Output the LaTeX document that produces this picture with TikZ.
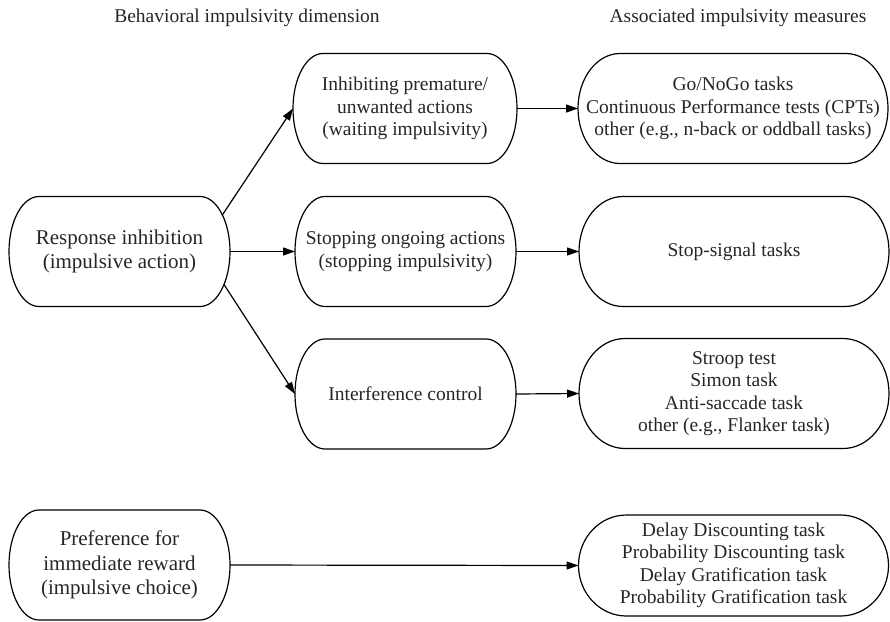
\documentclass[tikz,border=0pt]{standalone}
\usepackage{fontspec}
\setmainfont{Liberation Serif}
\usetikzlibrary{arrows.meta,calc}

\begin{document}
\begin{tikzpicture}[x=1pt,y=-1pt,line width=1.2pt,-{Triangle[length=12pt,width=8pt]}]

  \tikzstyle{pill}=[shape=rectangle,outer sep=0pt,align=center,inner sep=2pt,font=\fontsize{19.5}{22.5}\selectfont,text=black!85]
  \tikzstyle{dimnode}=[pill,minimum width=221pt,minimum height=110pt]
  \tikzstyle{rootnode}=[dimnode,font=\fontsize{21}{24.5}\selectfont]
  \tikzstyle{measnode}=[pill,minimum width=310pt,minimum height=110pt]
  \tikzstyle{headnode}=[font=\fontsize{19.5}{22.5}\selectfont,text=black!85]

  \useasboundingbox (0,0) rectangle (890,621);

  \node[headnode] (dimhead)  at (247,18) {Behavioral impulsivity dimension};
  \node[headnode] (meashead) at (738,18) {Associated impulsivity measures};

  \node[rootnode] (respinh)  at (119.5,251.5) {Response inhibition\\(impulsive action)};
  \node[rootnode] (prefrew)  at (119.5,565)   {Preference for\\immediate reward\\(impulsive choice)};

  \node[dimnode,minimum width=224pt] (waiting)  at (405,108.5) {Inhibiting premature/\\unwanted actions\\(waiting impulsivity)};
  \node[dimnode] (stopping) at (405.5,251.5) {Stopping ongoing actions\\(stopping impulsivity)};
  \node[dimnode] (interf)   at (405.5,394)   {Interference control};

  \node[measnode] (gonogo)  at (733,108.5) {Go/NoGo tasks\\Continuous Performance tests (CPTs)\\other (e.g., n-back or oddball tasks)};
  \node[measnode] (stopsig) at (734,251.5) {Stop-signal tasks};
  \node[measnode] (stroop)  at (734,393.5) {Stroop test\\Simon task\\Anti-saccade task\\other (e.g., Flanker task)};
  \node[measnode,minimum height=101pt] (delay) at (733.5,565.5) {Delay Discounting task\\Probability Discounting task\\Delay Gratification task\\Probability Gratification task};

  % outlines with elliptic ends
  \foreach \nd/\bx in {respinh/30,prefrew/30,waiting/30,stopping/30,interf/30,gonogo/42,stopsig/44,stroop/46,delay/48}
    \draw[-] let \p1=($(\nd.north)-(\nd.south)$), \n1={0.5*\y1} in
      ([xshift=\bx pt]\nd.north west) -- ([xshift=-\bx pt]\nd.north east)
      arc[start angle=90,end angle=-90,x radius=\bx pt,y radius=\n1]
      -- ([xshift=\bx pt]\nd.south west)
      arc[start angle=270,end angle=90,x radius=\bx pt,y radius=\n1] -- cycle;

  \path ([shift={(-8pt,36pt)}]respinh.east)  edge (waiting.west)
        (respinh.east)                       edge (stopping.west)
        ([shift={(-6pt,-33pt)}]respinh.east) edge (interf.west)
        (waiting.east)  edge (gonogo.west)
        (stopping.east) edge (stopsig.west)
        (interf.east)   edge (stroop.west)
        (prefrew.east)  edge (delay.west);
\end{tikzpicture}
\end{document}
